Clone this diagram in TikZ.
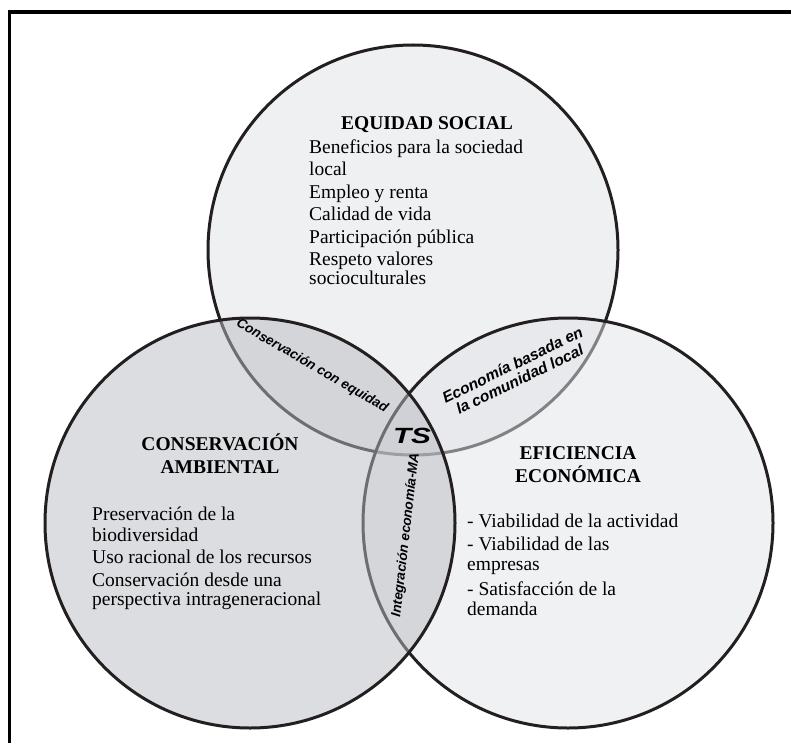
\documentclass[tikz,border=0pt]{standalone}
\usepackage{fontspec}
\setmainfont{Liberation Serif}
\newfontfamily\lensfont{Liberation Sans}
\usepackage{tikz}
\usetikzlibrary{positioning}
\usepackage{xcolor}
\definecolor{rimblack}{RGB}{35,31,32}
\definecolor{socialgray}{RGB}{239,240,242}
\definecolor{econgray}{RGB}{226,228,232}
\definecolor{ambgray}{RGB}{185,187,193}

\begin{document}
\begin{tikzpicture}[x=1pt, y=-1pt,
    ring/.style={draw=rimblack, line width=3pt},
    headtxt/.style={font=\fontsize{19.5}{23}\selectfont\bfseries, align=center, inner sep=0pt, anchor=base},
    bodytxt/.style={font=\fontsize{19.5}{22.5}\selectfont, align=left, inner sep=0pt, anchor=base west},
    lenstxt/.style={font=\lensfont\fontsize{13.5}{15}\selectfont\bfseries\itshape, align=center, inner sep=0pt}]
  \useasboundingbox (0,0) rectangle (791,743);
  % frame
  \draw[line width=3.5pt] (9.5,743) -- (9.5,12) -- (791,12);
  % three circles
  \draw[ring, fill=socialgray] (413,250) circle (205pt);
  \draw[ring, fill=econgray, fill opacity=0.5] (568,523) circle (205pt);
  \draw[ring, fill=ambgray, fill opacity=0.5] (250,523) circle (205pt);
  % social (base = last line)
  \node[headtxt] (socialhead) at (427,130) {EQUIDAD SOCIAL};
  \node[bodytxt] (socialbody) at (309,284) {Beneficios para la sociedad\\ local\\ Empleo y renta\\ Calidad de vida\\ Participación pública\\ Respeto valores\\[-4pt] socioculturales};
  % environment
  \node[headtxt] (ambhead) at (220,473) {CONSERVACIÓN\\ AMBIENTAL};
  \node[bodytxt] (ambbody) at (92,605) {Preservación de la\\[-1.5pt] biodiversidad\\ Uso racional de los recursos\\ Conservación desde una\\[-3.5pt] perspectiva intrageneracional};
  % economy
  \node[headtxt] (econhead) at (578,482) {EFICIENCIA\\ ECONÓMICA};
  \node[bodytxt] (econbody) at (467,615) {- Viabilidad de la actividad\\ - Viabilidad de las\\[-2.5pt] empresas\\[2.5pt] - Satisfacción de la\\[-2.5pt] demanda};
  % overlaps
  \node[lenstxt, rotate=-30] (equitylens) at (312,366) {Conservación con equidad};
  \node[lenstxt, font=\lensfont\fontsize{15.5}{16}\selectfont\bfseries\itshape, rotate=26] (communitylens) at (516,372) {Economía basada en\\ la comunidad local};
  \node[lenstxt, rotate=83.5] (integrationlens) at (406,535) {Integración economía-MA};
  \node[font=\lensfont\fontsize{22}{22}\selectfont\bfseries\itshape, xscale=1.35] (tslabel) at (412,436) {TS};
\end{tikzpicture}
\end{document}
